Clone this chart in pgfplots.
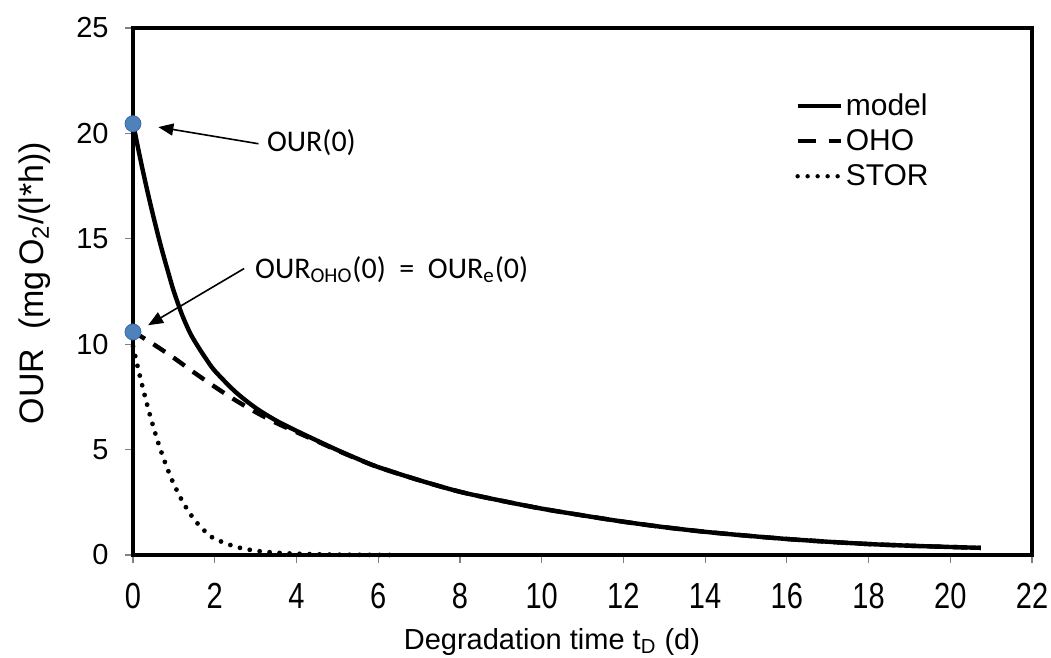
\documentclass[border=0pt]{standalone}
\usepackage{graphicx}
\usepackage{pgfplots}
\pgfplotsset{compat=1.18}
\usepackage{fontspec}
\setmainfont{Liberation Sans}
\newfontfamily\calibri{Carlito}
\usetikzlibrary{arrows.meta}
\definecolor{dotblue}{HTML}{4F81BD}
\definecolor{dotedge}{HTML}{3B6BA5}

\pgfplotstableread{
t v
0 20.5
0.1 19.53
0.2 18.6
0.3 17.71
0.4 16.86
0.5 16.05
0.6 15.27
0.7 14.53
0.8 13.83
0.9 13.15
1.0 12.5
1.2 11.4
1.4 10.52
1.6 9.86
1.8 9.27
2.0 8.74
2.5 7.75
3.0 6.98
3.5 6.38
4.0 5.89
4.5 5.43
5.0 4.98
5.5 4.56
6.0 4.17
7 3.55
8 3.0
9 2.58
10 2.2
11 1.88
12 1.58
13 1.32
14 1.1
15 0.92
16 0.76
17 0.63
18 0.52
19 0.44
20 0.38
20.75 0.34
}\modeldata

\pgfplotstableread{
t v
0 10.6
0.5 10.0
1 9.35
1.5 8.65
2 7.98
2.5 7.35
3 6.78
3.5 6.27
4.0 5.83
4.5 5.4
5.0 4.96
5.5 4.55
6.0 4.17
7 3.55
8 3.0
9 2.58
10 2.2
11 1.88
12 1.58
13 1.32
14 1.1
15 0.92
16 0.76
17 0.63
18 0.52
19 0.44
20 0.38
20.75 0.34
}\ohodata

\pgfplotstableread{
t v
0 9.9
0.1 9.05
0.2 8.24
0.3 7.47
0.4 6.74
0.5 6.07
0.6 5.43
0.7 4.85
0.8 4.31
0.9 3.81
1.0 3.36
1.2 2.58
1.4 1.95
1.6 1.45
1.8 1.06
2.0 0.77
2.5 0.40
3.0 0.2
3.5 0.11
4.0 0.06
5.0 0.015
6.5 0.0
}\stordata

\begin{document}
\begin{tikzpicture}
\begin{axis}[
  scale only axis, width=449.5pt, height=263.5pt,
  xmin=0, xmax=22, ymin=0, ymax=25,
  xtick={0,2,...,22}, ytick={0,5,...,25},
  clip=false,
  axis line style={line width=2.3pt, line cap=rect},
  tick align=outside, tick pos=left,
  major tick length=4pt,
  every tick/.style={gray, line width=0.6pt},
  /pgf/number format/assume math mode=true,
  tick label style={font=\fontsize{14.5}{16}\selectfont},
  xticklabel={\scalebox{1}[1.25]{\pgfmathprintnumber{\tick}}},
  xticklabel style={inner sep=0pt, anchor=north, yshift=-10pt},
  yticklabel style={inner sep=0pt, anchor=east, xshift=-8pt},
  xlabel={Degradation time t\textsubscript{D} (d)},
  xlabel style={font=\fontsize{14.5}{16}\selectfont, at={(axis description cs:0.466,0)}, anchor=base, yshift=-47pt},
  ylabel={OUR\ \ (mg\,O\textsubscript{2}/(l*h))},
  ylabel style={font=\fontsize{17}{19}\selectfont, at={(axis description cs:-0.109,0.516)}, anchor=center},
  legend style={at={(axis description cs:0.7364,0.882)}, anchor=north west, draw=none, fill=none, inner sep=0pt, row sep=2.5pt, font=\fontsize{15}{17}\selectfont, cells={anchor=west}, nodes={inner sep=1.5pt}},
  legend image code/.code={\draw[#1] (0pt,0pt) -- (21.5pt,0pt);},
]
\addplot[black, line width=2.2pt, smooth, forget plot] table[x=t,y=v] {\modeldata};
\addplot[black, line width=2.2pt, smooth, dash pattern=on 7pt off 5pt, forget plot] table[x=t,y=v] {\ohodata};
\addplot[black, line width=2.4pt, smooth, line cap=round, dash pattern=on 0pt off 5pt, forget plot] table[x=t,y=v] {\stordata};
\addplot[only marks, mark=*, mark size=4pt, mark options={fill=dotblue, draw=dotedge, line width=0.4pt}, forget plot] coordinates {(0,20.46) (0,10.58)};

\addlegendimage{black, line width=2.2pt}
\addlegendentry{model}
\addlegendimage{black, line width=2.2pt, dash pattern=on 9pt off 6.5pt}
\addlegendentry{OHO}
\addlegendimage{black, line width=2.2pt, line cap=round, dash pattern=on 0pt off 5pt}
\addlegendentry{STOR}

\draw[-{Triangle[length=7.5pt,width=6pt]}, line width=0.8pt] (axis cs:3.07,19.51) -- (axis cs:0.62,20.3);
\node[anchor=base west, inner sep=0pt, font=\calibri\fontsize{15}{18}\selectfont] at (axis cs:3.27,19.16) {OUR(0)};
\draw[-{Triangle[length=7.5pt,width=6pt]}, line width=0.8pt] (axis cs:2.72,13.59) -- (axis cs:0.37,10.9);
\node[anchor=base west, inner sep=0pt, font=\calibri\fontsize{15}{18}\selectfont] at (axis cs:2.98,13.13) {OUR\textsubscript{OHO}(0)\ \ =\ \ OUR\textsubscript{e}(0)};
\end{axis}
\pgfresetboundingbox
\path (current axis.south west) ++(-66.5pt,-51pt) rectangle ([xshift=9.5pt,yshift=14pt]current axis.north east);
\end{tikzpicture}
\end{document}
